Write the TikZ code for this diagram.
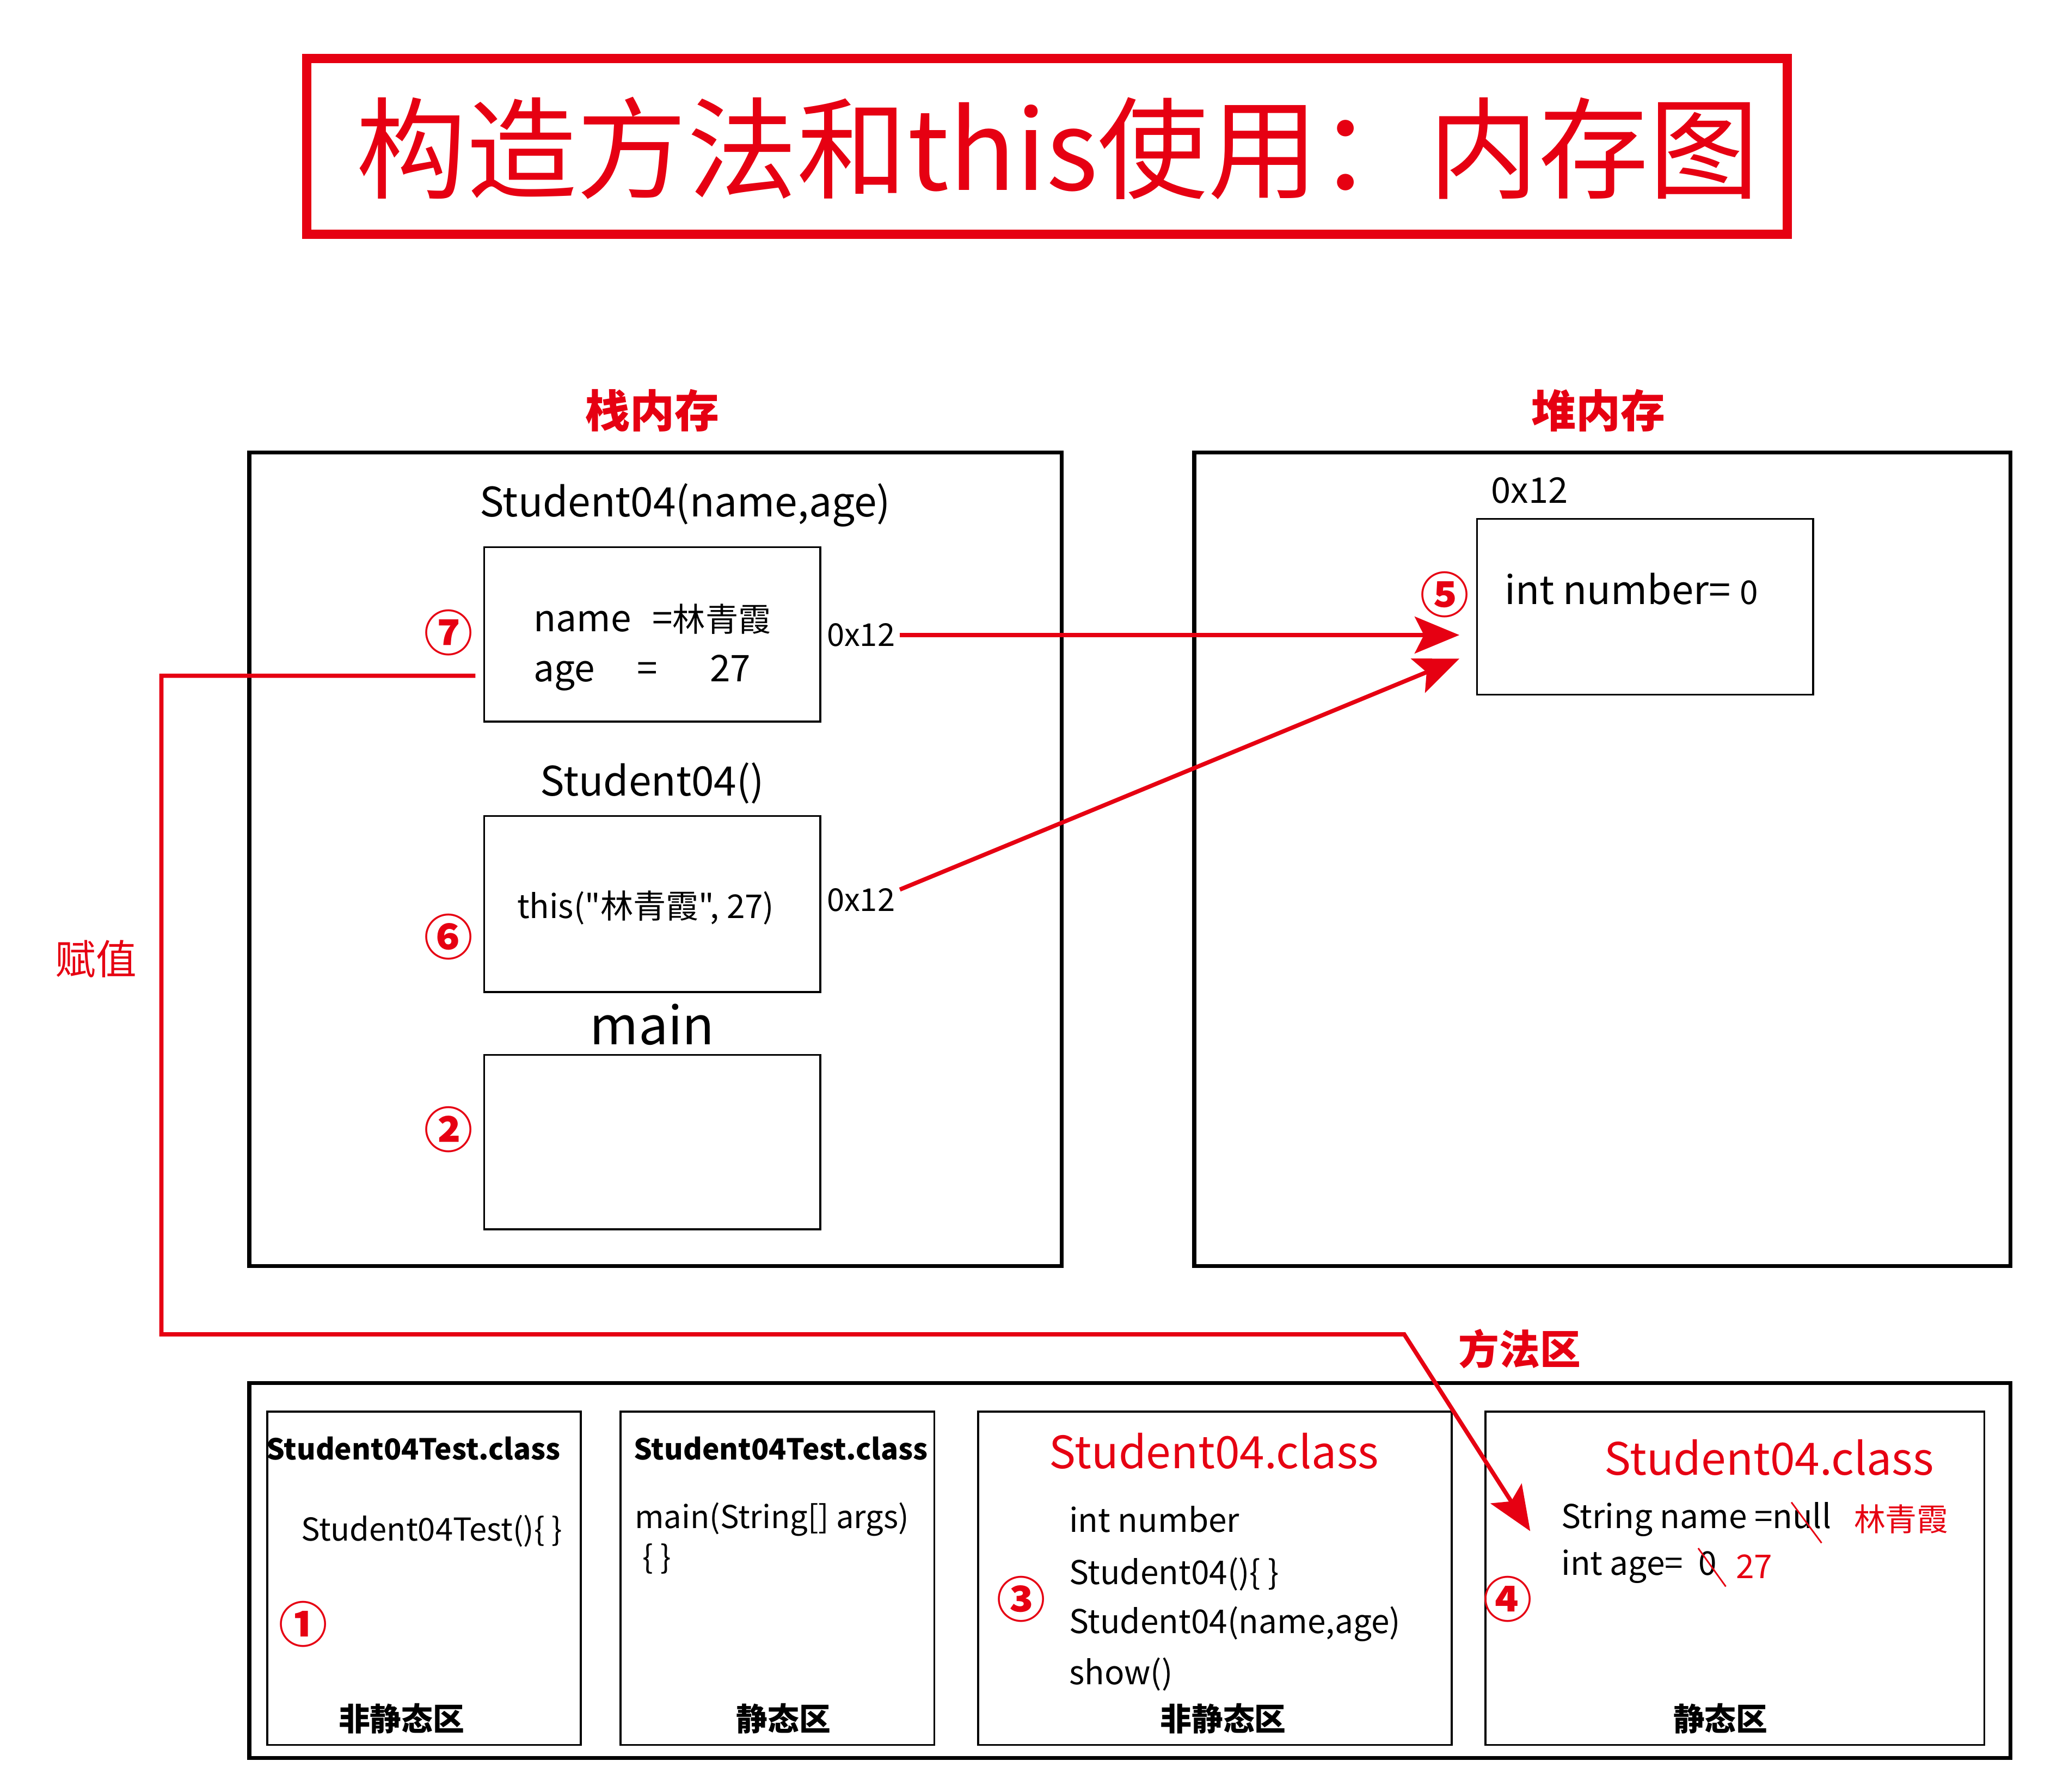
\documentclass[tikz,border=0pt]{standalone}
\usepackage{fontspec}
\setmainfont{Noto Sans CJK SC}
\newfontfamily\plainfont{Noto Sans CJK SC}
\usepackage{tikz}
\usetikzlibrary{arrows.meta}
\definecolor{memred}{RGB}{230,0,18}
\newcommand\memfont[1]{\fontsize{#1}{#1}\selectfont}
\tikzset{
  every picture/.style={line width=0.75pt},
  area/.style={draw, line width=3pt, inner sep=0pt},
  frame/.style={draw, line width=1.5pt, inner sep=0pt},
  stepno/.style={text=memred, font=\memfont{37}\bfseries},
  head/.style={text=memred, font=\memfont{34}\bfseries},
  reflink/.style={draw=memred, line width=3.2pt, -{Stealth[length=34pt,width=28pt,inset=7pt]}},
  strike/.style={draw=memred, line width=1.2pt}
}

\begin{document}
\begin{tikzpicture}[x=1pt,y=1pt,yscale=-1,xscale=1]
	\useasboundingbox (0,0) rectangle (1567.4,1365.8);

	%Shape: Title Frame
	\node [draw=memred, line width=7pt, minimum width=1128pt, minimum height=134pt, inner sep=0pt] (titlebox) at (797.75,111.5) {};
	% Text Node
	\node [text=memred, font=\memfont{84}] (title) at (806,113) {构造方法和this使用：内存图};

	% Text Node
	\node [head] (stacklbl) at (497,313) {栈内存};
	% Text Node
	\node [head] (heaplbl) at (1218,313) {堆内存};

	%Shape: Stack Area
	\node [area, minimum width=619pt, minimum height=620pt] (stack) at (499.5,655) {};
	%Shape: Heap Area
	\node [area, minimum width=622pt, minimum height=620pt] (heap) at (1221,655) {};

	% Text Node
	\node [font=\memfont{31}] (sig7) at (522,385) {Student04(name,age)};
	%Shape: Rectangle
	\node [frame, minimum width=256pt, minimum height=133pt] (box7) at (497,483.5) {};
	% Text Node
	\node [anchor=west, font=\memfont{28}] (name7) at (403,472) {name\hspace{16pt}={\memfont{25}林青霞}};
	% Text Node
	\node [anchor=west, font=\memfont{28}] (age7) at (403,513) {age\hspace{32pt}=\hspace{40pt}27};
	% Text Node
	\node [stepno] (n7) at (342,482) {⑦};
	% Text Node
	\node [font=\memfont{24}] (addr7) at (656,484) {0x12};

	% Text Node
	\node [font=\memfont{31}] (sig6) at (497,597) {Student04()};
	%Shape: Rectangle
	\node [frame, minimum width=256pt, minimum height=134pt] (box6) at (497,689) {};
	% Text Node
	\node [font=\memfont{25}\plainfont] (call6) at (492,692) {this("林青霞", 27)};
	% Text Node
	\node [stepno] (n6) at (342,714) {⑥};
	% Text Node
	\node [font=\memfont{24}] (addr6) at (656,686) {0x12};

	% Text Node
	\node [font=\memfont{40}] (mainlbl) at (497,781) {main};
	%Shape: Rectangle
	\node [frame, minimum width=256pt, minimum height=133pt] (box2) at (497,870.5) {};
	% Text Node
	\node [stepno] (n2) at (342,861) {②};

	% Text Node
	\node [font=\memfont{27}] (objaddr) at (1165.5,374) {0x12};
	%Shape: Rectangle
	\node [frame, minimum width=256pt, minimum height=134pt] (obj) at (1253.5,462.5) {};
	% Text Node
	\node [font=\memfont{30}] (field5) at (1243,449) {int number= {\memfont{25}0}};
	% Text Node
	\node [stepno] (n5) at (1101,453) {⑤};

	% Text Node
	\node [text=memred, font=\memfont{31}] (assign) at (73,731) {赋值};
	% Text Node
	\node [text=memred, font=\memfont{31}\bfseries] (methodlbl) at (1158,1028) {方法区};

	%Shape: Method Area
	\node [area, minimum width=1342pt, minimum height=286pt] (method) at (861,1197) {};
	%Shape: Rectangle
	\node [frame, minimum width=239pt, minimum height=254pt] (cls1) at (323.1,1203) {};
	%Shape: Rectangle
	\node [frame, minimum width=239pt, minimum height=254pt] (cls2) at (592.4,1203) {};
	%Shape: Rectangle
	\node [frame, minimum width=361pt, minimum height=254pt] (cls3) at (925.7,1203) {};
	%Shape: Rectangle
	\node [frame, minimum width=380pt, minimum height=254pt] (cls4) at (1322,1203) {};

	% Text Node
	\node [font=\memfont{22}\bfseries] (t1) at (315,1104) {Student04Test.class};
	\node [font=\memfont{24}] (c1) at (329,1167) {Student04Test()\{ \}};
	\node [stepno] (n1) at (231,1238) {①};
	\node [font=\memfont{24}\bfseries] (z1) at (306,1310) {非静态区};

	% Text Node
	\node [font=\memfont{22}\bfseries] (t2) at (595,1104) {Student04Test.class};
	\node [anchor=west, font=\memfont{24}] (c2) at (480,1158) {main(String[] args)};
	\node [anchor=west, font=\memfont{24}] (b2) at (486,1188) {\{ \}};
	\node [font=\memfont{24}\bfseries] (z2) at (597,1310) {静态区};

	% Text Node
	\node [text=memred, font=\memfont{34}] (t3) at (925,1106) {Student04.class};
	\node [anchor=west, font=\memfont{25}] (f3) at (811,1158) {int number};
	\node [anchor=west, font=\memfont{25}] (k3) at (811,1200) {Student04()\{ \}};
	\node [anchor=west, font=\memfont{25}] (k3b) at (811,1238) {Student04(name,age)};
	\node [anchor=west, font=\memfont{25}] (m3) at (811,1276) {show()};
	\node [stepno] (n3) at (778,1219) {③};
	\node [font=\memfont{24}\bfseries] (z3) at (932,1310) {非静态区};

	% Text Node
	\node [text=memred, font=\memfont{34}] (t4) at (1348,1111) {Student04.class};
	\node [anchor=west, font=\memfont{25}] (f4) at (1186,1158) {String name =null};
	\node [anchor=west, text=memred, font=\memfont{24}] (v4) at (1409,1158) {林青霞};
	\node [anchor=west, font=\memfont{25}] (g4) at (1186,1194) {int age=\hspace{12pt}0};
	\node [anchor=west, text=memred, font=\memfont{25}] (w4) at (1319,1194) {27};
	\node [stepno] (n4) at (1149,1219) {④};
	\node [font=\memfont{24}\bfseries] (z4) at (1311,1310) {静态区};

	%Straight Lines: crossed out values
	\draw [strike] (1365,1145) -- (1388,1176);
	\draw [strike] (1294,1180) -- (1315,1209.2);

	%Arrows: references into the heap
	\coordinate (in7) at (1112,484);
	\coordinate (in6) at (1112,502);
	\draw [reflink] (addr7.east) -- (in7);
	\draw [reflink] ([yshift=-8pt]addr6.east) -- (in6);

	%Arrow: assignment back into the class
	\coordinate (leftrun) at (123,1017);
	\coordinate (turn) at (1070,1017);
	\coordinate (in4) at (1166,1167);
	\draw [reflink] ([xshift=-6pt,yshift=31.5pt]box7.west) -| (leftrun) -- (turn) -- (in4);

\end{tikzpicture}
\end{document}
